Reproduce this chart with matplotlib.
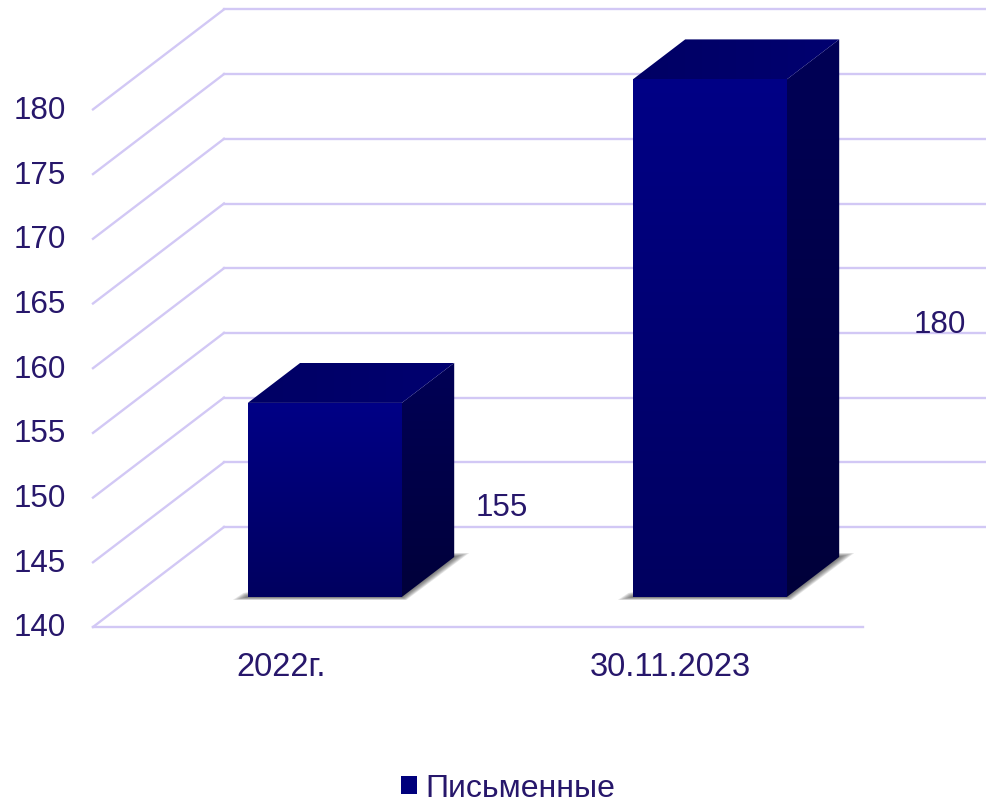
import matplotlib
matplotlib.use("Agg")
import matplotlib.pyplot as plt
import numpy as np
from matplotlib.colors import LinearSegmentedColormap
from matplotlib.patches import Patch, Polygon
from matplotlib.transforms import ScaledTranslation

# Data
categories = ["2022г.", "30.11.2023"]
values = [155, 180]
series_name = "Письменные"
y_ticks = [140, 145, 150, 155, 160, 165, 170, 175, 180]

# Look
plt.rcParams["font.family"] = ["Liberation Sans", "DejaVu Sans"]
TEXT = "#27176b"
GRID = "#d2c8f5"
FONT = 22.6

W, H = 987, 803
X0, Y0 = 93, 628       # pixel position of the front left floor corner
PX_X = 385             # pixels per category
PX_Y = 12.94           # pixels per value unit
DX = 131 / PX_X        # oblique depth of the chart box, in data units
DY = 100 / PX_Y
BAR_HALF = 0.2
BAR_D0, BAR_D1 = 0.3, 0.7  # where the bar sits in the depth of the box

fig = plt.figure(figsize=(W / 100, H / 100), dpi=100)
ax = fig.add_axes([X0 / W, (H - Y0) / H, (W - X0) / W, Y0 / H])
for s in ax.spines.values():
    s.set_visible(False)
ax.patch.set_alpha(0)

xlim = (-0.5, -0.5 + (W - X0) / PX_X)
ylim = (140, 140 + Y0 / PX_Y)


def gradient(pts, c_start, c_end, horizontal=False, z=3):
    # fill a polygon with a linear gradient, clipped from an image
    cmap = LinearSegmentedColormap.from_list("g", [c_start, c_end])
    g = np.linspace(0, 1, 256)
    g = g.reshape(1, -1) if horizontal else g.reshape(-1, 1)
    xs = [p[0] for p in pts]
    ys = [p[1] for p in pts]
    im = ax.imshow(g, cmap=cmap, aspect="auto", origin="lower", zorder=z,
                   extent=(min(xs), max(xs), min(ys), max(ys)))
    poly = Polygon(pts, closed=True, transform=ax.transData, fc="none", ec="none")
    ax.add_patch(poly)
    im.set_clip_path(poly)


# box lines
for v in y_ticks:
    ax.plot([-0.5, -0.5 + DX], [v, v + DY], color=GRID, lw=1.7, zorder=1, clip_on=False)
    ax.plot([-0.5 + DX, 1.5 + DX], [v + DY, v + DY], color=GRID, lw=1.7, zorder=1)
ax.plot([-0.5, 1.5], [140, 140], color=GRID, lw=1.7, zorder=1, clip_on=False)

# bars
for i, v in enumerate(values):
    lx = i - BAR_HALF + BAR_D0 * DX
    rx = i + BAR_HALF + BAR_D0 * DX
    base = 140 + BAR_D0 * DY
    top = v + BAR_D0 * DY
    ddx = (BAR_D1 - BAR_D0) * DX
    ddy = (BAR_D1 - BAR_D0) * DY

    # soft shadow on the floor, stacked thin layers
    for grow in np.linspace(1, 0.1, 8):
        tip_l = 15 * grow / PX_X
        tip_r = 15 * grow / PX_X
        drop = 3 * grow / PX_Y
        rise = 4 * grow / PX_Y
        ax.add_patch(Polygon([(lx - tip_l, base - drop), (rx + tip_r * 0.3, base - drop),
                              (rx + ddx + tip_r, base + ddy + rise),
                              (rx + ddx - 0.01, base + ddy + rise),
                              (lx - tip_l * 0.3, base + rise)],
                             closed=True, fc="#2a2a2a", ec="none", alpha=0.11, zorder=2))

    gradient([(lx, base), (rx, base), (rx, top), (lx, top)], "#00005f", "#000086")
    gradient([(rx, base), (rx + ddx, base + ddy), (rx + ddx, top + ddy), (rx, top)],
             "#00003a", "#000056")
    gradient([(lx, top), (rx, top), (rx + ddx, top + ddy), (lx + ddx, top + ddy)],
             "#000064", "#000070", horizontal=True)

# data labels sit off to the side of each bar
label_x = [0.562, 0.699]
label_y = [149.3, 163.45]
for i, v in enumerate(values):
    ax.text(i + label_x[i], label_y[i], str(v), color=TEXT, fontsize=FONT,
            ha="center", va="center", zorder=5)

ax.set_xlim(*xlim)
ax.set_ylim(*ylim)
ax.set_xticks(range(len(categories)))
ax.set_xticklabels(categories)
ax.set_yticks(y_ticks)
ax.tick_params(axis="both", length=0, labelcolor=TEXT)
ax.tick_params(axis="y", pad=19.4, labelsize=FONT)
ax.tick_params(axis="x", pad=17.5, labelsize=23.5)

# tick labels sit a little off their tick positions in the original
up = ScaledTranslation(0, 3 / 100, fig.dpi_scale_trans)
for t in ax.get_yticklabels():
    t.set_transform(t.get_transform() + up)
left = ScaledTranslation(-4 / 100, 0, fig.dpi_scale_trans)
first = ax.get_xticklabels()[0]
first.set_transform(first.get_transform() + left)

fig.legend(handles=[Patch(facecolor="#00007c", edgecolor="none", label=series_name)],
           loc="lower left", bbox_to_anchor=(401 / W, -1 / H), frameon=False,
           fontsize=23, labelcolor=TEXT, handlelength=0.5, handleheight=0.5,
           handletextpad=0.25, borderpad=0, borderaxespad=0)

fig.savefig("out.png", dpi=100, facecolor="white")
